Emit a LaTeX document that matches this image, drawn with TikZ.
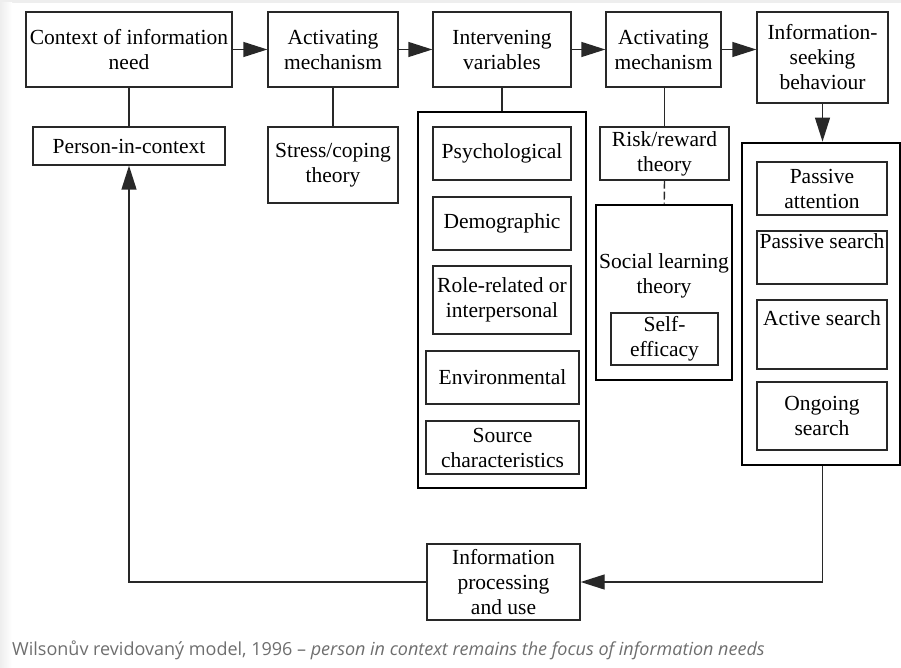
\documentclass[tikz,border=0pt]{standalone}
\usepackage{fontspec}
\setmainfont{Liberation Serif}
\newfontfamily\captionfont{Open Sans}
\usetikzlibrary{arrows.meta}
\definecolor{framegray}{RGB}{238,238,238}
\definecolor{captiongray}{RGB}{110,110,110}
\definecolor{linegray}{RGB}{40,40,40}
\tikzset{
  box/.style={draw=linegray, line width=1.3pt, align=center, inner sep=0pt,
    font=\fontsize{21.5}{25}\selectfont},
  outerbox/.style={draw=black, line width=2.8pt, inner sep=0pt},
  flow/.style={draw=linegray, line width=1.3pt, -{Triangle[length=24pt,width=15pt]}},
  link/.style={draw=linegray, line width=1.3pt}
}
\begin{document}
\begin{tikzpicture}[x=1pt,y=-1pt]
  \useasboundingbox (0,0) rectangle (901,668);
  % screenshot frame
  \fill[framegray] (0,0) rectangle (901,3);
  \shade[left color=framegray, right color=white] (0,3) rectangle (12,668);

  % top row
  \node[box, minimum width=206, minimum height=75] (context) at (129,49.5) {Context of information\\need};
  \node[box, minimum width=130, minimum height=75] (act1) at (333,49.5) {Activating\\mechanism};
  \node[box, minimum width=138, minimum height=75] (interv) at (502,49.5) {Intervening\\variables};
  \node[box, minimum width=115, minimum height=75] (act2) at (663.5,49.5) {Activating\\mechanism};
  \node[box, minimum width=131, minimum height=91] (seeking) at (822.5,57.5) {Information-\\seeking\\behaviour};

  \draw[flow] (context) -- (act1);
  \draw[flow] (act1) -- (interv);
  \draw[flow] (interv) -- (act2);
  \draw[flow] (act2) -- (seeking.west |- act2);

  % second row
  \node[box, minimum width=192, minimum height=38] (person) at (129,146) {Person-in-context};
  \node[box, minimum width=130, minimum height=76] (stress) at (333,165) {Stress/coping\\theory};
  \node[box, minimum width=129, minimum height=53] (risk) at (664.5,153.5) {Risk/reward\\theory};

  \draw[link] (context) -- (person);
  \draw[link] (act1) -- (stress);
  \draw[link] (act2.south -| risk) -- (risk);

  % intervening variables
  \node[outerbox, minimum width=168, minimum height=376] (intervbox) at (502,300) {};
  \node[box, minimum width=138, minimum height=53] (psych) at (502,153.5) {Psychological};
  \node[box, minimum width=138, minimum height=53] (demo) at (502,223.5) {Demographic};
  \node[box, minimum width=138, minimum height=68] (role) at (502,300) {Role-related or\\interpersonal};
  \node[box, minimum width=153, minimum height=53] (envir) at (502.5,377.5) {Environmental};
  \node[box, minimum width=153, minimum height=53] (source) at (502.5,447.5) {Source\\characteristics};
  \draw[link] (interv) -- (intervbox);

  % social learning theory
  \node[outerbox, minimum width=136, minimum height=175] (social) at (664,292.5) {};
  \node[align=center, inner sep=0pt, font=\fontsize{21.5}{25}\selectfont] (socialtext) at (664,276) {Social learning\\theory};
  \node[box, minimum width=107, minimum height=52] (efficacy) at (664.5,339) {Self-\\efficacy};
  \draw[link, dash pattern=on 8pt off 3pt] (risk) -- (social);

  % information-seeking behaviour
  \node[outerbox, minimum width=158, minimum height=322] (seekbox) at (821,304) {};
  \node[box, minimum width=130, minimum height=53] (pattention) at (822,188.5) {Passive\\attention};
  \node[box, minimum width=130, minimum height=53] (psearch) at (822,257.5) {Passive search\\\strut};
  \node[box, minimum width=130, minimum height=69] (asearch) at (822,334.5) {Active search\\\strut};
  \node[box, minimum width=130, minimum height=68] (osearch) at (822,416) {Ongoing\\search};
  \draw[flow] (seeking) -- (seeking.south |- seekbox.north);

  % feedback loop
  \node[box, minimum width=153, minimum height=76] (process) at (503.5,582) {Information\\processing\\and use};
  \coordinate (loopright) at (seeking.south |- process);
  \coordinate (loopleft) at (person.south |- process);
  \draw[flow] (seeking.south |- seekbox.south) -- (loopright) -- (process);
  \draw[flow] (process) -- (loopleft) -- (person);

  % caption
  \node[anchor=west, inner sep=0pt, text=captiongray, font=\captionfont\fontsize{18}{21}\selectfont] (caption) at (12,650)
    {Wilsonův revidovaný model, 1996 – \textit{person in context remains the focus of information needs}};
\end{tikzpicture}
\end{document}
